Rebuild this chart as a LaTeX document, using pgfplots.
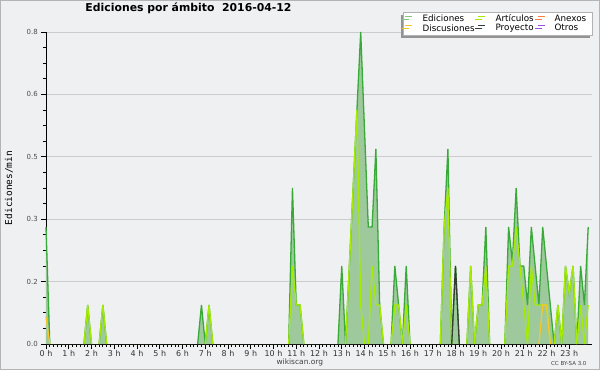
\documentclass[border=0pt]{standalone}
\usepackage{fontspec}
\setmainfont{DejaVu Sans}
\newfontfamily\monofont{DejaVu Sans Mono}
\usepackage{pgfplots}
\usepackage{pgfplotstable}
\pgfplotsset{compat=1.18}
\usetikzlibrary{shadows}
\definecolor{bgc}{RGB}{239,240,241}
\definecolor{framec}{RGB}{180,180,180}
\definecolor{gridc}{RGB}{204,204,204}
\definecolor{eline}{RGB}{56,170,56}
\definecolor{efill}{RGB}{157,201,157}
\definecolor{elegend}{RGB}{130,200,130}
\definecolor{art}{RGB}{165,236,0}
\definecolor{dis}{RGB}{245,200,40}
\definecolor{pro}{RGB}{50,62,50}
\definecolor{anx}{RGB}{255,128,64}
\definecolor{otr}{RGB}{150,80,230}

\pgfplotstableread{
m v
0 0.30
10 0
nan nan
100 0
110 0.1
120 0
nan nan
140 0
150 0.1
160 0
nan nan
400 0
410 0.1
420 0
430 0.1
440 0
nan nan
640 0
650 0.4
660 0.1
670 0.1
680 0
nan nan
770 0
780 0.2
790 0
800 0.2
810 0.4
820 0.6
830 0.8
840 0.55
850 0.3
860 0.3
870 0.5
880 0.1
890 0
nan nan
910 0
920 0.2
930 0.1
940 0
950 0.2
960 0
nan nan
1040 0
1050 0.3
1060 0.5
1070 0
1080 0.2
1090 0
nan nan
1110 0
1120 0.2
1130 0
1140 0.1
1150 0.1
1160 0.3
1170 0
nan nan
1210 0
1220 0.3
1230 0.21
1240 0.4
1250 0.2
1260 0.2
1270 0.1
1280 0.3
1290 0.2
1300 0.1
1310 0.3
1320 0.2
1330 0.1
1340 0
1350 0.1
1360 0
1370 0.2
1380 0.13
1390 0.2
1400 0
1410 0.2
1420 0.1
1430 0.3
}\edic

\pgfplotstableread{
m v
100 0
110 0.1
120 0
nan nan
140 0
150 0.1
160 0
nan nan
420 0
430 0.1
440 0
nan nan
640 0
650 0.2
660 0.1
670 0.1
680 0
nan nan
790 0
800 0.2
810 0.4
820 0.6
830 0.1
840 0
nan nan
850 0
860 0.2
870 0.1
880 0.1
890 0
nan nan
910 0
920 0.1
930 0.1
940 0
950 0.1
960 0
nan nan
1040 0
1050 0.3
1060 0.4
1070 0
nan nan
1110 0
1120 0.2
1130 0
1140 0.1
1150 0.1
1160 0.2
1170 0
nan nan
1210 0
1220 0.2
1230 0.2
1240 0.3
1250 0.2
1260 0.1
1270 0
1280 0.2
1290 0.1
1300 0.1
1310 0.1
1320 0.1
1330 0
nan nan
1340 0
1350 0.1
1360 0
1370 0.2
1380 0.13
1390 0.2
1400 0
1410 0.1
1420 0
1430 0.1
}\artic

\pgfplotstableread{
m v
0 0.07
10 0
nan nan
1300 0
1310 0.1
1320 0.1
1330 0
}\discu

\pgfplotstableread{
m v
1070 0
1080 0.2
1090 0
}\proy

\begin{document}
\begin{tikzpicture}
\fill[bgc] (-46bp,-26bp) rectangle (554bp,344bp);
\draw[framec, line width=1.5bp] (-45.25bp,-25.25bp) rectangle (553.25bp,343.25bp);
\begin{axis}[
  at={(0,0)}, anchor=south west,
  scale only axis, width=546bp, height=312bp,
  xmin=0, xmax=1440, ymin=0, ymax=0.8,
  clip=false,
  axis lines=left,
  axis line style={-, black, line width=0.9bp},
  xtick={0,60,...,1380},
  xticklabels={0 h,1 h,2 h,3 h,4 h,5 h,6 h,7 h,8 h,9 h,10 h,11 h,12 h,13 h,14 h,15 h,16 h,17 h,18 h,19 h,20 h,21 h,22 h,23 h},
  minor x tick num=5,
  ytick={0,0.16,0.32,0.48,0.64,0.8},
  yticklabels={0.0,0.2,0.3,0.5,0.6,0.8},
  minor y tick num=3,
  tick align=outside,
  tick style={black, line width=0.8bp},
  major tick length=5bp, minor tick length=3bp,
  ymajorgrids, grid style={gridc, line width=0.8bp},
  /pgf/number format/assume math mode=true,
  xticklabel style={font=\fontsize{8}{9}\selectfont, text=black!80, inner sep=1bp},
  yticklabel style={font=\fontsize{7}{8}\selectfont, text=black!70, inner sep=1bp, xshift=-2bp},
  ylabel={\monofont Ediciones/min},
  ylabel style={font=\fontsize{9.5}{10}\selectfont, at={(axis description cs:-0.0678,0.5)}, anchor=center, rotate=0},
  title={Ediciones por ámbito\ \ 2016-04-12},
  title style={font=\bfseries\fontsize{10.9}{12}\selectfont, at={(axis description cs:0.261,1.0465)}, anchor=base},
  legend columns=3,
  legend style={at={(axis description cs:1.0018,1.0641)}, anchor=north east,
    draw=gray!60, fill=white, line width=0.8bp,
    font=\fontsize{8.8}{9}\selectfont,
    inner xsep=1bp, inner ysep=2.5bp, row sep=1bp, column sep=0bp,
    nodes={inner sep=0bp},
    general shadow={shadow xshift=-3bp, shadow yshift=-3bp, fill=gray!85}},
  legend image code/.code={\draw[#1, line width=1bp] (0bp,3bp) -- (7bp,3bp);},
]
\addlegendimage{elegend}\addlegendentry{\makebox[65bp][l]{\hspace*{10bp}Ediciones}}
\addlegendimage{art}\addlegendentry{\makebox[52bp][l]{\hspace*{10bp}Artículos}}
\addlegendimage{anx}\addlegendentry{\makebox[46bp][l]{\hspace*{9bp}Anexos}}
\addlegendimage{dis}\addlegendentry{\makebox[65bp][l]{\hspace*{10bp}Discusiones}}
\addlegendimage{pro}\addlegendentry{\makebox[52bp][l]{\hspace*{10bp}Proyecto}}
\addlegendimage{otr}\addlegendentry{\makebox[46bp][l]{\hspace*{9bp}Otros}}

\addplot[fill=efill, draw=none, forget plot, unbounded coords=discard] table[x=m,y=v]{\edic} \closedcycle;
\addplot[eline, line width=1.3bp, forget plot, unbounded coords=jump] table[x=m,y=v]{\edic};
\addplot[art, line width=1.3bp, forget plot, unbounded coords=jump] table[x=m,y=v]{\artic};
\addplot[dis, line width=1.3bp, forget plot, unbounded coords=jump] table[x=m,y=v]{\discu};
\addplot[pro, line width=1.3bp, forget plot, unbounded coords=jump] table[x=m,y=v]{\proy};

\node[font=\fontsize{7.5}{8}\selectfont, text=black!75, anchor=center] at (axis description cs:0.465,-0.0577) {wikiscan.org};
\node[font=\fontsize{5.5}{6}\selectfont, text=black!75, anchor=east] at (axis description cs:0.9963,-0.061) {CC BY-SA 3.0};
\end{axis}
\pgfresetboundingbox
\path (-46bp,-26bp) rectangle (554bp,344bp);
\end{tikzpicture}
\end{document}
